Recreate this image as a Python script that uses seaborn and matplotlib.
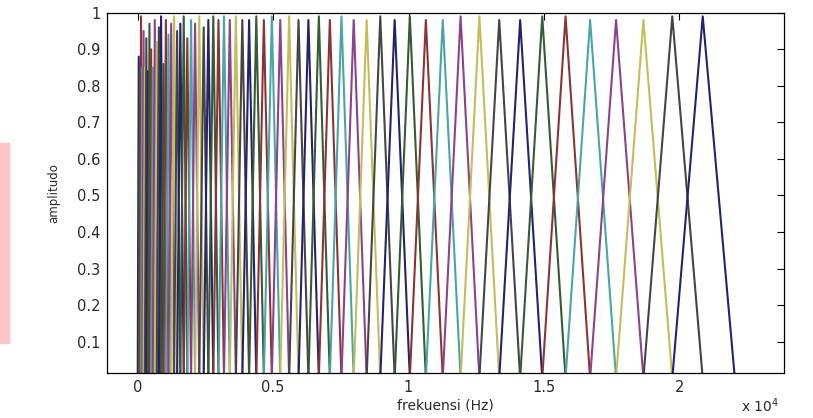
import numpy as np
import pandas as pd
import matplotlib
matplotlib.use("Agg")
import matplotlib.pyplot as plt
import seaborn as sns
from matplotlib.ticker import FixedLocator, FuncFormatter
from matplotlib.patches import Rectangle

# ---- data ----
# filter band edges: lower edge, 64 filter centres, upper edge (Hz)
edge_low = 0.0
centers = [38.5, 79.1, 122.0, 167.2, 215.0, 265.3, 318.4, 374.4, 433.5, 495.9,
           561.7, 631.1, 704.4, 781.6, 863.1, 949.1, 1039.9, 1135.6, 1236.6, 1343.1,
           1455.5, 1574.1, 1699.2, 1831.3, 1970.5, 2117.4, 2272.5, 2436.0, 2608.5, 2790.6,
           2982.6, 3185.2, 3399.0, 3624.5, 3862.4, 4113.4, 4378.2, 4657.6, 4952.4, 5263.4,
           5591.5, 5937.6, 6302.8, 6688.1, 7094.6, 7523.4, 7975.8, 8453.2, 8956.8, 9488.1,
           10048.6, 10639.9, 11263.8, 11922.1, 12616.5, 13349.2, 14122.1, 14937.6, 15797.9, 16705.6,
           17663.2, 18673.6, 19739.4, 20864.0]
edge_high = 22050.0
peaks = [0.88, 0.84, 0.99, 0.85, 0.95, 0.85, 0.93, 0.84, 0.97, 0.90,
         0.85, 0.98, 0.92, 0.96, 0.99, 0.86, 0.98, 0.94, 0.97, 0.99,
         0.95, 0.97, 0.99, 0.93, 0.98, 0.97, 0.99, 0.96, 0.98, 0.99,
         0.98, 0.99, 0.98, 0.99, 0.98, 0.98, 0.99, 0.98, 0.99, 0.98,
         0.99, 0.98, 0.98, 0.99, 0.98, 0.99, 0.98, 0.98, 0.99, 0.98,
         0.99, 0.98, 0.98, 0.99, 0.99, 0.98, 0.98, 0.99, 0.99, 0.98,
         0.98, 0.98, 0.99, 0.99]
xticks = [0, 5000, 10000, 15000, 20000]
yticks = [0.1, 0.2, 0.3, 0.4, 0.5, 0.6, 0.7, 0.8, 0.9, 1.0]

# MATLAB-like line colour order (as it appears in the image)
color_order = ["#23236e", "#355c35", "#8c3434", "#4aa6a6", "#8c428c", "#c4bd5a", "#454545"]

# ---- build long table ----
pts = [edge_low] + centers + [edge_high]
rows = []
for i, (c, h) in enumerate(zip(centers, peaks)):
    for f, a in ((pts[i], 0.0), (c, h), (pts[i + 2], 0.0)):
        rows.append({"frekuensi": f, "amplitudo": a, "filter": i})
df = pd.DataFrame(rows)
palette = {i: color_order[i % 7] for i in range(len(centers))}

sns.set_style("white")
plt.rcParams["font.family"] = ["DejaVu Sans"]
txt = "#2a2a2a"

fig = plt.figure(figsize=(8.13, 4.18), dpi=100)
fig.patch.set_facecolor("white")
fig.patches.append(Rectangle((0, 1 - 343 / 418), 9 / 813, 200 / 418,
                             transform=fig.transFigure, color="#ffc4c4", zorder=0))
ax = fig.add_axes([107.3 / 813, 1 - 373.3 / 418, (784.3 - 107.3) / 813, (373.3 - 12.7) / 418])

sns.lineplot(data=df, x="frekuensi", y="amplitudo", hue="filter", palette=palette,
             estimator=None, sort=False, legend=False, linewidth=1.5, ax=ax)

ax.set_xlim(-1123, 23876)
ax.set_ylim(0.0136, 1.0)
ax.xaxis.set_major_locator(FixedLocator(xticks))
ax.yaxis.set_major_locator(FixedLocator(yticks))
ax.xaxis.set_major_formatter(FuncFormatter(lambda v, p: f"{v / 1e4:g}"))
ax.yaxis.set_major_formatter(FuncFormatter(lambda v, p: f"{v:g}"))
ax.tick_params(direction="in", length=5, width=0.8, top=True, right=True,
               labelsize=10.5, color="black", labelcolor=txt, pad=5)
for s in ax.spines.values():
    s.set_color("black")
    s.set_linewidth(0.9)
ax.set_xlabel("frekuensi (Hz)", fontsize=10, color=txt, labelpad=2)
ax.set_ylabel("amplitudo", fontsize=8.5, color=txt, labelpad=12)
fig.text(760 / 813, 1 - 412 / 418, "x 10$^4$", fontsize=10, ha="center", va="baseline",
         color=txt)

fig.savefig("out.png", dpi=100)
